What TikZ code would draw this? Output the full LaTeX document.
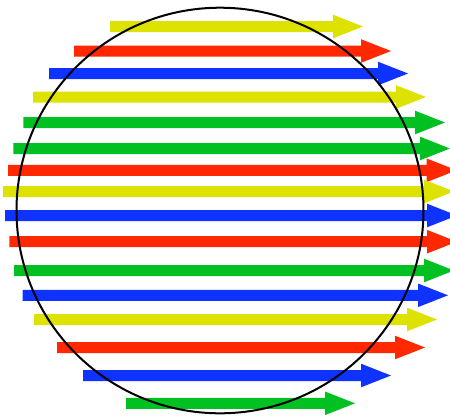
\documentclass[tikz,border=0pt]{standalone}
\definecolor{cyel}{RGB}{222,226,0}
\definecolor{cred}{RGB}{255,40,0}
\definecolor{cblu}{RGB}{14,50,255}
\definecolor{cgrn}{RGB}{0,192,34}
\tikzset{
  ring/.style={draw=black, line width=2pt},
  bar/.style={draw=none}
}
\begin{document}
\begin{tikzpicture}[x=1pt,y=-1pt]
\useasboundingbox (0,0) rectangle (450,416);
\clip (0,0) rectangle (450,416);
\foreach \yy/\xa/\hs/\col in {
  26.5/110/333/cyel,
  51/74/361/cred,
  73.5/49/378/cblu,
  97/33/396/cyel,
  122.5/23.3/415/cgrn,
  148.5/13.3/420/cgrn,
  170.3/8/426.7/cred,
  191.5/3/424/cyel,
  215.5/5/427/cblu,
  241.7/9.3/427/cred,
  270.5/14/424/cgrn,
  295.3/22.7/418/cblu,
  319.5/34/407/cyel,
  347.5/57/395/cred,
  375.5/83/361/cblu,
  403.3/126/325/cgrn}
{
  \fill[\col, bar] (\xa,\yy-5.5) -- (\hs,\yy-5.5) -- (\hs,\yy-11.8)
    -- (\hs+30,\yy) -- (\hs,\yy+11.8) -- (\hs,\yy+5.5) -- (\xa,\yy+5.5) -- cycle;
}
\draw[ring] (220,210.5) ellipse [x radius=203.5, y radius=202.8];
\end{tikzpicture}
\end{document}
